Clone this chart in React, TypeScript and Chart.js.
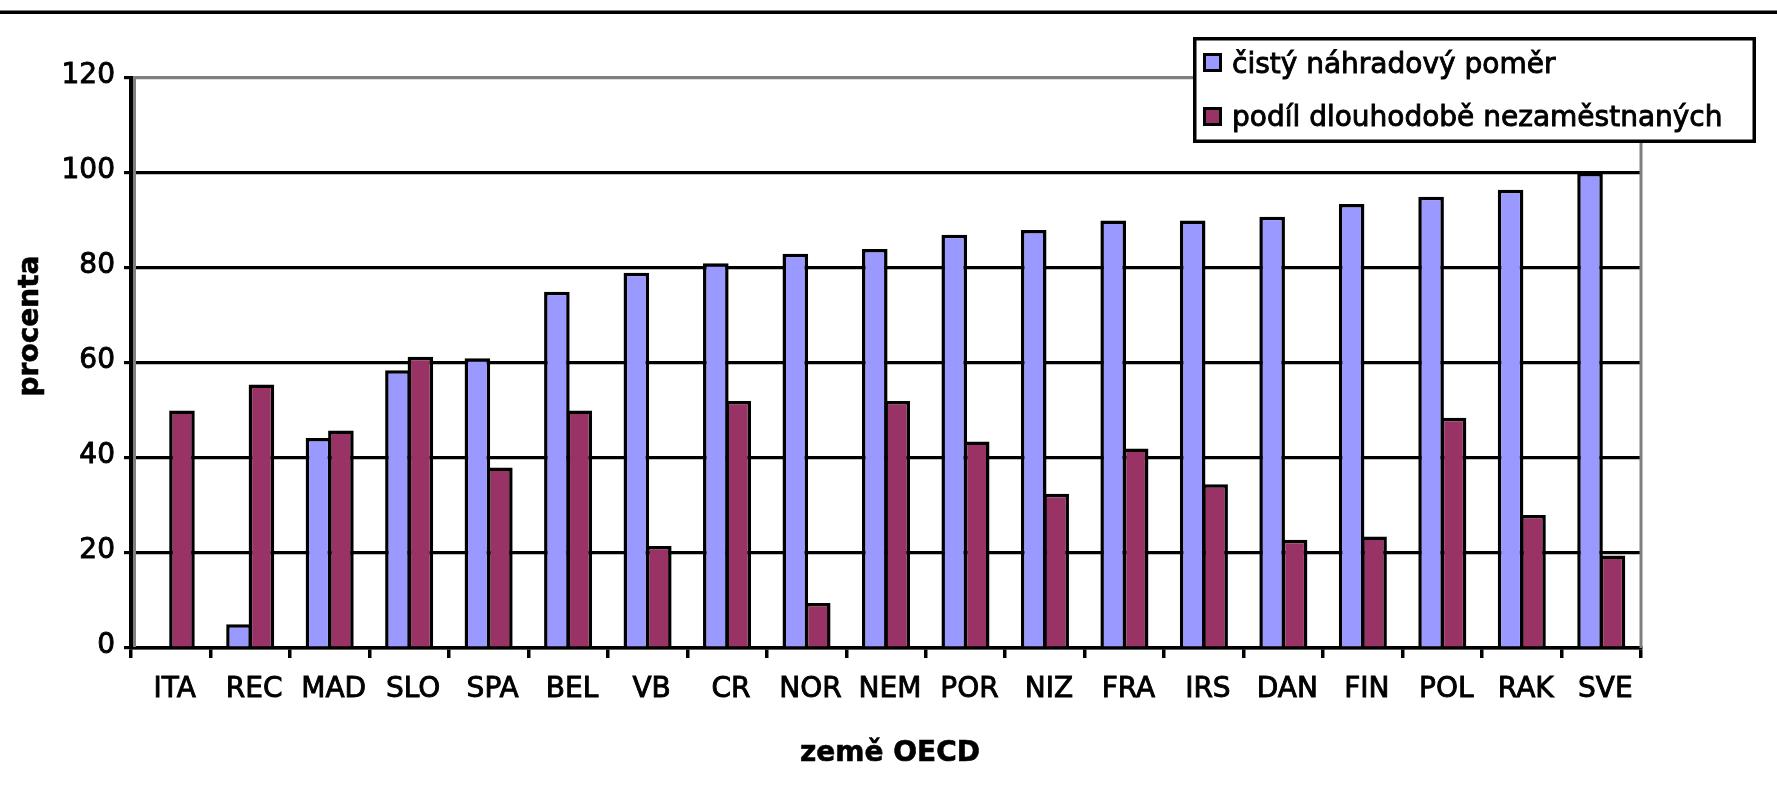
import React, { useEffect, useRef } from "react";
import { Chart, registerables } from "chart.js";

Chart.register(...registerables);

const categories = ["ITA", "REC", "MAD", "SLO", "SPA", "BEL", "VB", "CR", "NOR", "NEM", "POR", "NIZ", "FRA", "IRS", "DAN", "FIN", "POL", "RAK", "SVE"];
const replacementRate = [null, 5, 44.2, 58.5, 61, 75, 79, 81, 83, 84, 87, 88, 90, 90, 90.8, 93.5, 95, 96.5, 100];
const longTermUnemployed = [50, 55.5, 45.8, 61.3, 38, 50, 21.5, 52, 9.5, 52, 43.5, 32.5, 42, 34.5, 22.8, 23.5, 48.5, 28, 19.5];
const yTicks = [0, 20, 40, 60, 80, 100, 120];
const seriesLabels = ["čistý náhradový poměr", "podíl dlouhodobě nezaměstnaných"];
const seriesColors = ["#9999FF", "#993366"];
const xTitle = "země OECD";
const yTitle = "procenta";

const FONT = '"DejaVu Sans"';

const decorPlugin = {
  id: "decor",
  beforeDraw(chart: any) {
    const ctx = chart.ctx;
    ctx.save();
    ctx.fillStyle = "#ffffff";
    ctx.fillRect(0, 0, chart.width, chart.height);
    ctx.fillStyle = "#000000";
    ctx.fillRect(0, 10.5, chart.width, 3.5);
    ctx.restore();
  },
  beforeDatasetsDraw(chart: any) {
    const ctx = chart.ctx;
    const { left, right, top, bottom } = chart.chartArea;
    ctx.save();
    ctx.strokeStyle = "#808080";
    ctx.lineWidth = 3;
    ctx.beginPath();
    ctx.moveTo(left + 3.5, top);
    ctx.lineTo(left + 3.5, bottom - 1);
    ctx.moveTo(right, top - 1.5);
    ctx.lineTo(right, bottom);
    ctx.stroke();
    ctx.restore();
  },
  afterDraw(chart: any) {
    const ctx = chart.ctx;
    ctx.save();
    // axis titles
    ctx.fillStyle = "#000000";
    ctx.strokeStyle = "#000000";
    ctx.lineWidth = 0.6;
    ctx.font = `bold 28px ${FONT}`;
    ctx.textAlign = "center";
    ctx.textBaseline = "alphabetic";
    ctx.fillText(xTitle, 890, 761);
    ctx.strokeText(xTitle, 890, 761);
    ctx.save();
    ctx.translate(31, 326);
    ctx.rotate(-Math.PI / 2);
    ctx.textBaseline = "middle";
    ctx.fillText(yTitle, 0, 0);
    ctx.strokeText(yTitle, 0, 0);
    ctx.restore();

    // legend
    const bx = 1193, by = 37, bw = 563, bh = 106, bl = 3.5;
    ctx.fillStyle = "#ffffff";
    ctx.fillRect(bx, by, bw, bh);
    ctx.strokeStyle = "#000000";
    ctx.lineWidth = bl;
    ctx.strokeRect(bx + bl / 2, by + bl / 2, bw - bl, bh - bl);
    const squareY = [53, 107];
    const textY = [73, 126];
    chart.data.datasets.forEach((ds: any, i: number) => {
      ctx.fillStyle = "#000000";
      ctx.fillRect(1203, squareY[i], 19, 19);
      ctx.fillStyle = ds.backgroundColor;
      ctx.fillRect(1206, squareY[i] + 3, 13, 13);
      ctx.fillStyle = "#000000";
      ctx.strokeStyle = "#000000";
      ctx.lineWidth = 0.9;
      ctx.font = `28px ${FONT}`;
      ctx.textAlign = "left";
      ctx.textBaseline = "alphabetic";
      ctx.fillText(ds.label, 1232, textY[i]);
      ctx.strokeText(ds.label, 1232, textY[i]);
    });
    ctx.restore();
  },
};

export default function App() {
  const canvasRef = useRef<HTMLCanvasElement | null>(null);

  useEffect(() => {
    document.body.style.margin = "0";
    document.body.style.background = "#ffffff";
    const canvas = canvasRef.current;
    if (!canvas) return;
    const chart = new Chart(canvas, {
      type: "bar",
      data: {
        labels: categories,
        datasets: [
          {
            label: seriesLabels[0],
            data: replacementRate,
            backgroundColor: seriesColors[0],
            borderColor: "#000000",
            borderWidth: 3.5,
            borderSkipped: "start",
            categoryPercentage: 0.565,
            barPercentage: 1.14,
          },
          {
            label: seriesLabels[1],
            data: longTermUnemployed,
            backgroundColor: seriesColors[1],
            borderColor: "#000000",
            borderWidth: 3.5,
            borderSkipped: "start",
            categoryPercentage: 0.565,
            barPercentage: 1.14,
          },
        ],
      },
      options: {
        responsive: false,
        animation: false,
        devicePixelRatio: 1,
        layout: { padding: { top: 78, right: 136, left: 0, bottom: 0 } },
        plugins: {
          legend: { display: false },
          title: { display: false },
          tooltip: { enabled: false },
        },
        scales: {
          x: {
            grid: {
              offset: true,
              drawOnChartArea: false,
              drawTicks: true,
              tickLength: 10,
              color: "#000000",
              lineWidth: 3.5,
            },
            border: { display: true, color: "#000000", width: 3.5 },
            ticks: {
              color: "#000000",
              font: { size: 28, family: FONT },
              padding: 15,
              labelOffset: 4,
              maxRotation: 0,
              autoSkip: false,
              textStrokeColor: "#000000",
              textStrokeWidth: 0.9,
            },
            afterFit: (s: any) => {
              s.height = 147;
            },
          },
          y: {
            min: 0,
            max: 120,
            afterBuildTicks: (s: any) => {
              s.ticks = yTicks.map((v) => ({ value: v }));
            },
            ticks: {
              color: "#000000",
              font: { size: 28, family: FONT },
              padding: 9,
              labelOffset: -2,
              textStrokeColor: "#000000",
              textStrokeWidth: 0.9,
            },
            grid: {
              color: (c: any) => (c.tick && c.tick.value === 120 ? "#808080" : "#000000"),
              tickColor: "#000000",
              lineWidth: 3.2,
              tickLength: 7,
              drawTicks: true,
            },
            border: { display: true, color: "#000000", width: 4 },
            afterFit: (s: any) => {
              s.width = 131;
            },
          },
        },
      },
      plugins: [decorPlugin],
    });
    return () => chart.destroy();
  }, []);

  return <canvas ref={canvasRef} width={1777} height={795} style={{ display: "block", width: 1777, height: 795 }} />;
}
